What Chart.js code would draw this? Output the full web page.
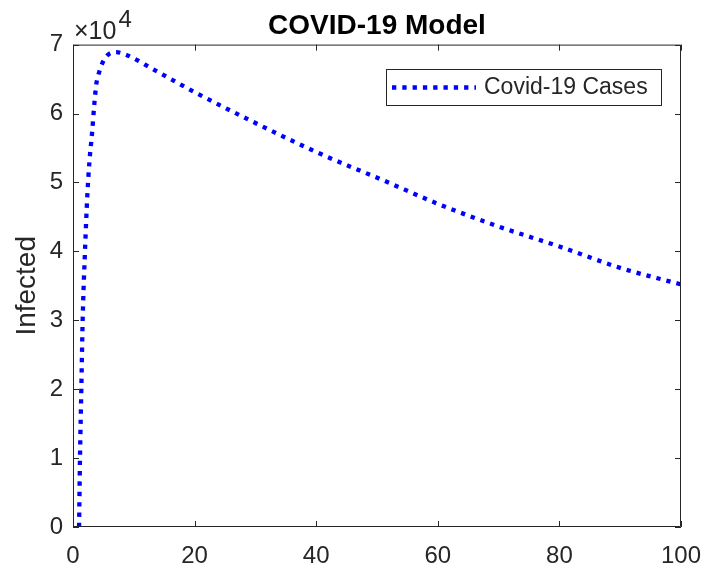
<!DOCTYPE html>
<html>
<head>
<meta charset="utf-8">
<title>COVID-19 Model</title>
<script src="https://cdn.jsdelivr.net/npm/chart.js@4/dist/chart.umd.min.js"></script>
<style>
  html, body { margin: 0; padding: 0; background: #fff; }
  canvas { display: block; }
</style>
</head>
<body>
<canvas id="myChart" width="704" height="567"></canvas>
<script>
// model output: time (days) and number of infected people
const days = [1, 1.15, 1.37, 1.59, 1.97, 2.35, 2.7, 3.13, 3.5, 3.84, 4.2, 4.77, 5.6, 7.1, 8.8,
    13.2, 20, 29.6, 40.3, 51.3, 60, 70, 80, 90, 100]
const infected = [0, 10000, 20000, 30000, 40000, 48000, 53000, 57100, 61300, 64300, 65700, 67200, 68400, 68900, 68500,
    66400, 63100, 58800, 54300, 50200, 46900, 43600, 40700, 37600, 35200]
const xTicks = [0, 20, 40, 60, 80, 100]
const yTicks = [0, 10000, 20000, 30000, 40000, 50000, 60000, 70000]
const yExponent = 4

const axisColor = '#262626'
const fontFamily = '"Liberation Sans", Arial, Helvetica, sans-serif'
const lineBlue = '#0000ff'
const dotPattern = [4.3, 6]

// matlab style axes: box all round, ticks pointing inward on every side
const boxAxes = {
    id: 'boxAxes',
    afterLayout(chart) {
        // center the title over the axes rather than the whole canvas
        if (chart.titleBlock) {
            chart.titleBlock.left = chart.chartArea.left
            chart.titleBlock.right = chart.chartArea.right
        }
    },
    afterDraw(chart) {
        const { ctx, chartArea: a, scales } = chart
        const len = 6
        ctx.save()
        ctx.strokeStyle = axisColor
        ctx.lineWidth = 1
        ctx.beginPath()
        ctx.rect(a.left + 0.5, a.top + 0.5, a.right - a.left - 1, a.bottom - a.top - 1)
        xTicks.forEach((v) => {
            const x = Math.round(scales.x.getPixelForValue(v)) + 0.5
            ctx.moveTo(x, a.bottom); ctx.lineTo(x, a.bottom - len)
            ctx.moveTo(x, a.top); ctx.lineTo(x, a.top + len)
        })
        yTicks.forEach((v) => {
            const y = Math.round(scales.y.getPixelForValue(v)) + 0.5
            ctx.moveTo(a.left, y); ctx.lineTo(a.left + len, y)
            ctx.moveTo(a.right, y); ctx.lineTo(a.right - len, y)
        })
        ctx.stroke()

        // exponent over the y axis
        ctx.fillStyle = axisColor
        ctx.textBaseline = 'alphabetic'
        ctx.textAlign = 'left'
        ctx.font = '25px ' + fontFamily
        ctx.fillText('\u00d710', a.left + 1, a.top - 6)
        const w = ctx.measureText('\u00d710').width
        ctx.font = '24px ' + fontFamily
        ctx.fillText(String(yExponent), a.left + 3 + w, a.top - 18)

        // legend box, top right inside the axes
        const ds = chart.data.datasets[0]
        const bx = 386, by = 69, bw = 275, bh = 36
        ctx.fillStyle = '#fff'
        ctx.fillRect(bx, by, bw, bh)
        ctx.strokeRect(bx + 0.5, by + 0.5, bw, bh)
        ctx.strokeStyle = ds.borderColor
        ctx.lineWidth = ds.borderWidth
        ctx.setLineDash(ds.borderDash)
        ctx.beginPath()
        ctx.moveTo(bx + 6, by + bh / 2 + 0.5)
        ctx.lineTo(bx + 90, by + bh / 2 + 0.5)
        ctx.stroke()
        ctx.setLineDash([])
        ctx.fillStyle = axisColor
        ctx.font = '23px ' + fontFamily
        ctx.textBaseline = 'middle'
        ctx.fillText(ds.label, bx + 98, by + bh / 2 + 1)
        ctx.restore()
    }
}

let ctx = document.getElementById('myChart').getContext('2d')
const myChart = new Chart(ctx, {
    type: 'line',
    data: {
        datasets: [{
            label: 'Covid-19 Cases',
            data: days.map((d, i) => ({ x: d, y: infected[i] })),
            borderColor: lineBlue,
            borderWidth: 4.3,
            borderDash: dotPattern,
            borderCapStyle: 'butt',
            pointRadius: 0,
            cubicInterpolationMode: 'monotone',
            fill: false
        }]
    },
    options: {
        responsive: false,
        devicePixelRatio: 1,
        animation: false,
        layout: { padding: { left: 0, right: 23, top: 0, bottom: 0 } },
        plugins: {
            legend: { display: false },
            tooltip: { enabled: false },
            title: {
                display: true,
                text: 'COVID-19 Model',
                color: '#000',
                font: { family: fontFamily, size: 28, weight: 'bold' },
                padding: { top: 9, bottom: 2 }
            }
        },
        scales: {
            x: {
                type: 'linear',
                min: 0,
                max: 100,
                afterBuildTicks: (scale) => { scale.ticks = xTicks.map((v) => ({ value: v })) },
                afterFit: (scale) => {
                    scale.height = 40
                    scale.paddingLeft = 0
                    scale.paddingRight = 0
                },
                ticks: {
                    color: axisColor,
                    font: { family: fontFamily, size: 24 },
                    padding: 15,
                    maxRotation: 0
                },
                grid: { display: true, drawOnChartArea: false, drawTicks: false },
                border: { display: false }
            },
            y: {
                type: 'linear',
                min: 0,
                max: 70000,
                afterBuildTicks: (scale) => { scale.ticks = yTicks.map((v) => ({ value: v })) },
                afterFit: (scale) => {
                    scale.width = 73
                    scale.paddingTop = 0
                    scale.paddingBottom = 0
                },
                ticks: {
                    color: axisColor,
                    font: { family: fontFamily, size: 24 },
                    padding: 10,
                    callback: (val) => String(val / Math.pow(10, yExponent))
                },
                grid: { display: true, drawOnChartArea: false, drawTicks: false },
                border: { display: false },
                title: {
                    display: true,
                    text: 'Infected',
                    color: axisColor,
                    font: { family: fontFamily, size: 28 },
                    padding: { top: 10, bottom: 0 }
                }
            }
        }
    },
    plugins: [boxAxes]
})
</script>
</body>
</html>
